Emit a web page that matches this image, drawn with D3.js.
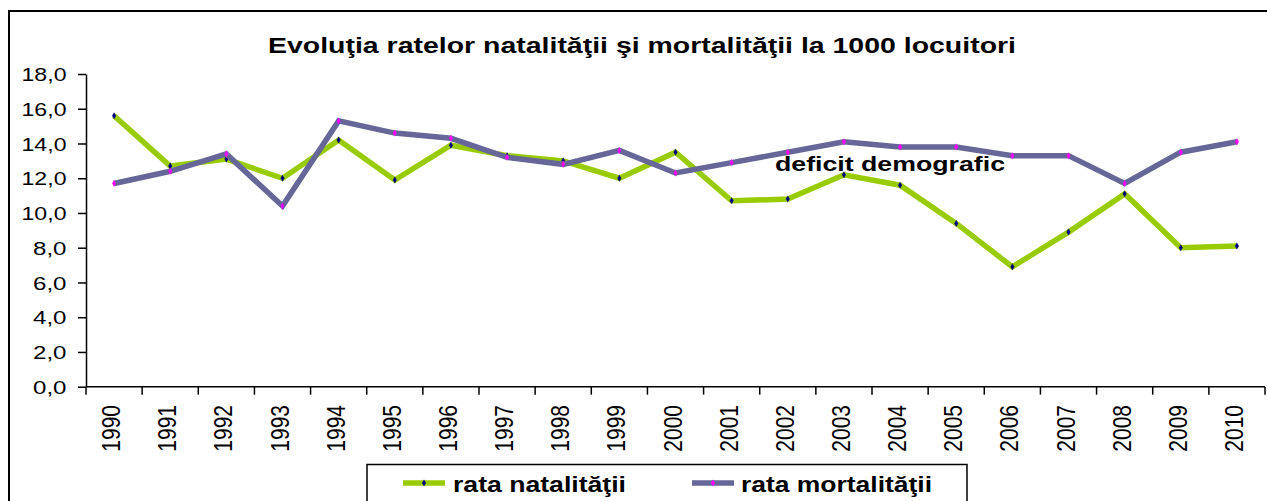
<!DOCTYPE html>
<html>
<head>
<meta charset="utf-8">
<script src="https://cdn.jsdelivr.net/npm/d3@7"></script>
<style>
  html, body { margin: 0; padding: 0; background: #fff; }
  svg { display: block; }
  text { font-family: "Liberation Sans", Arial, sans-serif; fill: #000; }
</style>
</head>
<body>
<svg id="chart" width="1267" height="501"></svg>
<script>
const title = "Evoluţia ratelor natalităţii şi mortalităţii la 1000 locuitori";
const years = ["1990","1991","1992","1993","1994","1995","1996","1997","1998","1999","2000",
               "2001","2002","2003","2004","2005","2006","2007","2008","2009","2010"];
const natalitate = [15.6,12.7,13.1,12.0,14.2,11.9,13.9,13.3,13.0,12.0,13.5,10.7,10.8,12.2,11.6,9.4,6.9,8.9,11.1,8.0,8.1];
const mortalitate = [11.7,12.4,13.4,10.4,15.3,14.6,14.3,13.2,12.8,13.6,12.3,12.9,13.5,14.1,13.8,13.8,13.3,13.3,11.7,13.5,14.1];
const yTicks = [0,2,4,6,8,10,12,14,16,18];
const seriesNames = ["rata natalităţii", "rata mortalităţii"];
const annotation = "deficit demografic";

const svg = d3.select("#chart");
const X0 = 86, X1 = 1265, Y0 = 386.7, Y1 = 74;
const SX = 1.2; // horizontal text stretch of the reference

const x = d3.scaleBand().domain(years).range([X0, X1]).padding(0);
const y = d3.scaleLinear().domain([0, 18]).range([Y0, Y1]);

// outer border
svg.append("rect").attr("x", 9).attr("y", 11).attr("width", 1300).attr("height", 600)
  .attr("fill", "none").attr("stroke", "#000").attr("stroke-width", 2);

// title
svg.append("text").attr("x", 268).attr("y", 52.5)
  .attr("font-size", 22.5).attr("font-weight", "bold")
  .attr("textLength", 748).attr("lengthAdjust", "spacingAndGlyphs")
  .text(title);

// y axis
const fmt = d => d.toFixed(1).replace(".", ",");
const yLabW = d => fmt(d).length === 4 ? 45 : 33.5;
const yAxis = svg.append("g").attr("transform", `translate(${X0},0)`)
  .call(d3.axisLeft(y).tickValues(yTicks).tickSize(8).tickSizeOuter(0).tickFormat(fmt));
yAxis.attr("font-size", null).attr("font-family", null).attr("text-anchor", null);
yAxis.select(".domain").attr("stroke", "#000").attr("stroke-width", 1.5);
yAxis.selectAll(".tick line").attr("stroke", "#000").attr("stroke-width", 1.5);
yAxis.selectAll(".tick text")
  .style("font-size", "18.6px")
  .attr("fill", "#000")
  .attr("text-anchor", "start")
  .attr("x", d => -19.5 - yLabW(d)).attr("dy", "0.36em")
  .attr("textLength", yLabW)
  .attr("lengthAdjust", "spacingAndGlyphs");

// x axis line + ticks at band boundaries
const gx = svg.append("g");
gx.append("line").attr("x1", X0).attr("x2", X1).attr("y1", Y0).attr("y2", Y0)
  .attr("stroke", "#000").attr("stroke-width", 1.5);
const bounds = years.map(d => x(d)).concat([x(years[years.length - 1]) + x.bandwidth()]);
gx.selectAll("line.tk").data(bounds).enter().append("line").attr("class", "tk")
  .attr("x1", d => d).attr("x2", d => d).attr("y1", Y0).attr("y2", Y0 + 8)
  .attr("stroke", "#000").attr("stroke-width", 1.5);
gx.selectAll("text").data(years).enter().append("text")
  .attr("transform", d => `translate(${x(d) + x.bandwidth() / 2 - 3},405) scale(${SX},1) rotate(-90)`)
  .attr("text-anchor", "end").attr("dy", "0.36em")
  .attr("font-size", 21)
  .text(d => d);

// series
const series = [
  { name: seriesNames[0], values: natalitate, color: "#99CC00", marker: "#000080" },
  { name: seriesNames[1], values: mortalitate, color: "#666699", marker: "#FF00FF" }
];
const line = d3.line().x((d, i) => x(years[i]) + x.bandwidth() / 2).y(d => y(d));
const sym = d3.symbol().type(d3.symbolDiamond).size(14);

series.forEach(s => {
  svg.append("path").datum(s.values).attr("d", line)
    .attr("fill", "none").attr("stroke", s.color).attr("stroke-width", 5.5)
    .attr("stroke-linejoin", "miter");
  svg.append("g").selectAll("path").data(s.values).enter().append("path")
    .attr("d", sym)
    .attr("transform", (d, i) => `translate(${x(years[i]) + x.bandwidth() / 2},${y(d)})`)
    .attr("fill", s.marker);
});

// annotation
svg.append("text").attr("x", 775).attr("y", 170.7)
  .attr("font-size", 20.5).attr("font-weight", "bold")
  .attr("textLength", 230).attr("lengthAdjust", "spacingAndGlyphs")
  .text(annotation);

// legend
svg.append("rect").attr("x", 367).attr("y", 464.5).attr("width", 600).attr("height", 80)
  .attr("fill", "#fff").attr("stroke", "#000").attr("stroke-width", 1.5);
const legendItems = [
  { s: series[0], lx: 403, tx: 453, tl: 173 },
  { s: series[1], lx: 692, tx: 741, tl: 191 }
];
legendItems.forEach(it => {
  svg.append("line").attr("x1", it.lx).attr("x2", it.lx + 42).attr("y1", 483).attr("y2", 483)
    .attr("stroke", it.s.color).attr("stroke-width", 5.5);
  svg.append("path").attr("d", sym).attr("transform", `translate(${it.lx + 21},483)`)
    .attr("fill", it.s.marker);
  svg.append("text").attr("x", it.tx).attr("y", 491.5)
    .attr("font-size", 22).attr("font-weight", "bold")
    .attr("textLength", it.tl).attr("lengthAdjust", "spacingAndGlyphs")
    .text(it.s.name);
});
</script>
</body>
</html>
